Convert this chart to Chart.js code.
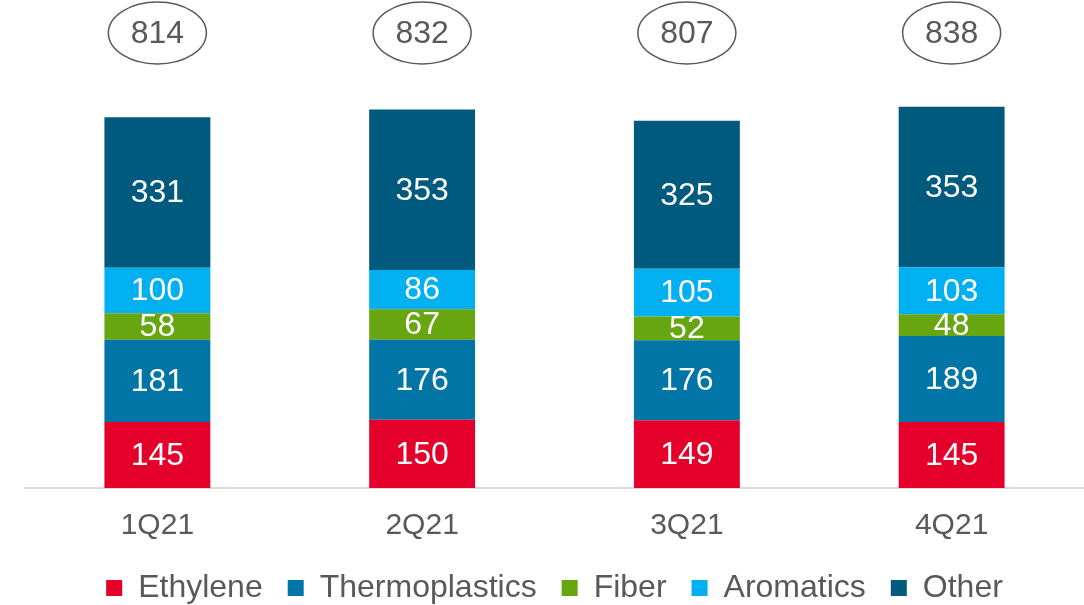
<!DOCTYPE html>
<html>
<head>
<meta charset="utf-8">
<script src="https://cdn.jsdelivr.net/npm/chart.js@4"></script>
<style>
  html, body { margin: 0; padding: 0; background: #fff; }
  #wrap { width: 1084px; height: 605px; }
</style>
</head>
<body>
<div id="wrap"><canvas id="chart"></canvas></div>
<script>
// data
const quarters = ["1Q21", "2Q21", "3Q21", "4Q21"];
const ethylene = [145, 150, 149, 145];
const thermoplastics = [181, 176, 176, 189];
const fiber = [58, 67, 52, 48];
const aromatics = [100, 86, 105, 103];
const other = [331, 353, 325, 353];
const totals = [814, 832, 807, 838];

const textGrey = "#595959";
const font = "'Liberation Sans', Arial, sans-serif";

// white values in the middle of each segment
const segmentLabels = {
  id: "segmentLabels",
  afterDatasetsDraw(chart) {
    const ctx = chart.ctx;
    ctx.save();
    ctx.fillStyle = "#fff";
    ctx.font = "32px " + font;
    ctx.textAlign = "center";
    ctx.textBaseline = "middle";
    chart.data.datasets.forEach((ds, i) => {
      chart.getDatasetMeta(i).data.forEach((bar, j) => {
        ctx.fillText(ds.data[j], bar.x, (bar.y + bar.base) / 2 + 1);
      });
    });
    ctx.restore();
  }
};

// totals in ovals above the bars
const totalOvals = {
  id: "totalOvals",
  afterDatasetsDraw(chart) {
    const ctx = chart.ctx;
    const xs = chart.scales.x;
    const cy = chart.chartArea.top;
    ctx.save();
    totals.forEach((t, i) => {
      const cx = xs.getPixelForValue(i);
      ctx.beginPath();
      ctx.ellipse(cx, cy, 49, 31, 0, 0, Math.PI * 2);
      ctx.fillStyle = "#fff";
      ctx.fill();
      ctx.lineWidth = 1.5;
      ctx.strokeStyle = textGrey;
      ctx.stroke();
      ctx.fillStyle = textGrey;
      ctx.font = "32px " + font;
      ctx.textAlign = "center";
      ctx.textBaseline = "middle";
      ctx.fillText(t, cx, cy + 1);
    });
    ctx.restore();
  }
};

new Chart(document.getElementById("chart"), {
  type: "bar",
  data: {
    labels: quarters,
    datasets: [
      { label: "Ethylene", data: ethylene, backgroundColor: "#E4002B" },
      { label: "Thermoplastics", data: thermoplastics, backgroundColor: "#0075A6" },
      { label: "Fiber", data: fiber, backgroundColor: "#67A611" },
      { label: "Aromatics", data: aromatics, backgroundColor: "#00B0F0" },
      { label: "Other", data: other, backgroundColor: "#005A7D" }
    ]
  },
  options: {
    responsive: true,
    maintainAspectRatio: false,
    animation: false,
    datasets: {
      bar: { barPercentage: 0.4, categoryPercentage: 1 }
    },
    layout: {
      padding: { left: 25, right: 0, top: 33, bottom: -9 }
    },
    scales: {
      x: {
        stacked: true,
        grid: { display: false, drawTicks: false },
        border: { display: true, color: "#d9d9d9", width: 2 },
        ticks: {
          color: textGrey,
          padding: 20,
          font: { family: font, size: 30 }
        },
        afterFit: (scale) => { scale.height = 59; }
      },
      y: {
        stacked: true,
        display: false,
        min: 0,
        max: 1000
      }
    },
    plugins: {
      legend: {
        position: "bottom",
        labels: {
          color: textGrey,
          boxWidth: 16,
          boxHeight: 16,
          padding: 25,
          font: { family: font, size: 32 }
        }
      },
      tooltip: { enabled: false }
    }
  },
  plugins: [segmentLabels, totalOvals]
});
</script>
</body>
</html>
